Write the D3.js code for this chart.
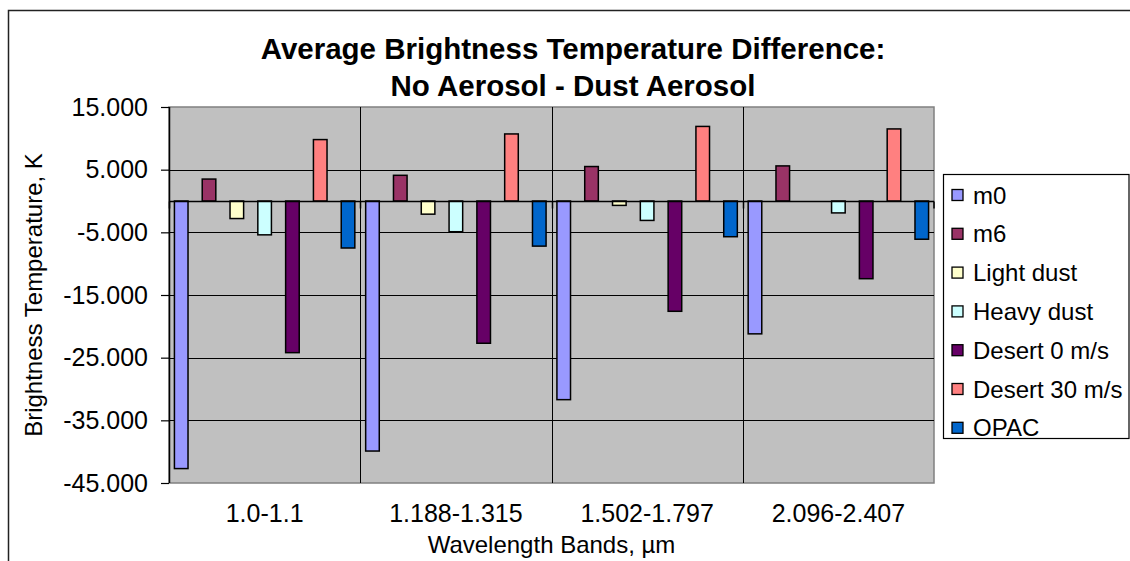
<!DOCTYPE html>
<html>
<head>
<meta charset="utf-8">
<script src="https://cdn.jsdelivr.net/npm/d3@7"></script>
<style>
  body { margin: 0; background: #fff; }
  svg { display: block; font-family: 'Liberation Sans', Arial, sans-serif; }
</style>
</head>
<body>
<svg id="chart" width="1130" height="561"></svg>
<script>
// data
const categories = ['1.0-1.1', '1.188-1.315', '1.502-1.797', '2.096-2.407']
const seriesNames = ['m0', 'm6', 'Light dust', 'Heavy dust', 'Desert 0 m/s', 'Desert 30 m/s', 'OPAC']
const m0 = [-42.7, -39.9, -31.7, -21.2]
const m6 = [3.5, 4.1, 5.5, 5.6]
const lightDust = [-2.8, -2.1, -0.7, 0]
const heavyDust = [-5.4, -4.9, -3.1, -1.9]
const desert0 = [-24.2, -22.7, -17.6, -12.4]
const desert30 = [9.8, 10.7, 11.9, 11.5]
const opac = [-7.5, -7.2, -5.7, -6.1]
const yTicks = [15, 5, -5, -15, -25, -35, -45]

const seriesValues = [m0, m6, lightDust, heavyDust, desert0, desert30, opac]
const colors = ['#9999FF', '#993366', '#FFFFCC', '#CCFFFF', '#660066', '#FF8080', '#0066CC']

const plot = { left: 169, right: 934, top: 107, bottom: 483 }

const svg = d3.select('#chart')

// chart frame (cropped on the right and bottom)
svg.append('path')
  .attr('d', 'M8.5,561 L8.5,10.5 L1130,10.5')
  .attr('fill', 'none')
  .attr('stroke', '#222')
  .attr('stroke-width', 1.5)

const x0 = d3.scaleBand().domain(categories).range([plot.left, plot.right]).padding(0)
const x1 = d3.scaleBand().domain(seriesNames).range([0, x0.bandwidth()])
  .paddingInner(0.511).paddingOuter(0.195)
const y = d3.scaleLinear().domain([-45, 15]).range([plot.bottom, plot.top])

// plot area
svg.append('rect')
  .attr('x', plot.left)
  .attr('y', plot.top)
  .attr('width', plot.right - plot.left)
  .attr('height', plot.bottom - plot.top)
  .attr('fill', '#C0C0C0')
  .attr('stroke', '#808080')
  .attr('stroke-width', 1.5)

// horizontal gridlines
svg.append('g')
  .selectAll('line')
  .data(yTicks.slice(1, -1))
  .enter()
  .append('line')
  .attr('x1', plot.left)
  .attr('x2', plot.right)
  .attr('y1', d => Math.round(y(d)) + 0.5)
  .attr('y2', d => Math.round(y(d)) + 0.5)
  .attr('stroke', '#000')
  .attr('stroke-width', 1)

// vertical gridlines between categories
svg.append('g')
  .selectAll('line')
  .data(categories.slice(1))
  .enter()
  .append('line')
  .attr('x1', d => Math.round(x0(d)) + 0.5)
  .attr('x2', d => Math.round(x0(d)) + 0.5)
  .attr('y1', plot.top)
  .attr('y2', plot.bottom)
  .attr('stroke', '#000')
  .attr('stroke-width', 1)

// bars
const groups = svg.append('g')
  .selectAll('g')
  .data(seriesNames)
  .enter()
  .append('g')
  .attr('fill', (d, i) => colors[i])

groups.selectAll('rect')
  .data((d, i) => seriesValues[i].map((v, j) => ({ name: d, cat: categories[j], value: v })))
  .enter()
  .append('rect')
  .attr('x', d => x0(d.cat) + x1(d.name))
  .attr('width', x1.bandwidth())
  .attr('y', d => y(Math.max(0, d.value)))
  .attr('height', d => Math.abs(y(d.value) - y(0)))
  .attr('stroke', '#000')
  .attr('stroke-width', 1.5)

// category axis at zero
const zeroY = Math.round(y(0)) + 0.5
svg.append('line')
  .attr('x1', plot.left)
  .attr('x2', plot.right)
  .attr('y1', zeroY)
  .attr('y2', zeroY)
  .attr('stroke', '#000')
  .attr('stroke-width', 1.5)

svg.append('g')
  .selectAll('line')
  .data(categories.concat(['end']))
  .enter()
  .append('line')
  .attr('x1', d => d === 'end' ? plot.right : Math.round(x0(d)) + 0.5)
  .attr('x2', d => d === 'end' ? plot.right : Math.round(x0(d)) + 0.5)
  .attr('y1', zeroY)
  .attr('y2', zeroY + 7)
  .attr('stroke', '#000')
  .attr('stroke-width', 1.5)

// value axis
const yAxis = d3.axisLeft(y)
  .tickValues(yTicks)
  .tickFormat(d => d.toFixed(3))
  .tickSize(8)
  .tickPadding(13)

const yAxisG = svg.append('g')
  .attr('transform', `translate(${plot.left}, 0)`)
  .call(yAxis)
yAxisG.select('.domain').remove()
yAxisG.selectAll('.tick line').attr('stroke', '#000').attr('stroke-width', 1.2)
yAxisG.selectAll('.tick text')
  .attr('font-size', 25)
  .attr('font-family', "'Liberation Sans', Arial, sans-serif")
  .attr('fill', '#000')

svg.append('line')
  .attr('x1', plot.left + 0.5)
  .attr('x2', plot.left + 0.5)
  .attr('y1', plot.top)
  .attr('y2', plot.bottom)
  .attr('stroke', '#000')
  .attr('stroke-width', 1.5)

// category labels
svg.append('g')
  .selectAll('text')
  .data(categories)
  .enter()
  .append('text')
  .attr('x', d => x0(d) + x0.bandwidth() / 2)
  .attr('y', 522)
  .attr('text-anchor', 'middle')
  .attr('font-size', 25)
  .text(d => d)

// axis titles
svg.append('text')
  .attr('x', (plot.left + plot.right) / 2)
  .attr('y', 553)
  .attr('text-anchor', 'middle')
  .attr('font-size', 24)
  .text('Wavelength Bands, µm')

svg.append('text')
  .attr('transform', `translate(42, ${(plot.top + plot.bottom) / 2}) rotate(-90)`)
  .attr('text-anchor', 'middle')
  .attr('font-size', 24)
  .text('Brightness Temperature, K')

// title
const title = svg.append('text')
  .attr('text-anchor', 'middle')
  .attr('font-size', 29.5)
  .attr('font-weight', 'bold')
title.append('tspan').attr('x', 573).attr('y', 59).text('Average Brightness Temperature Difference:')
title.append('tspan').attr('x', 573).attr('y', 96).text('No Aerosol - Dust Aerosol')

// legend
const legend = svg.append('g')
legend.append('rect')
  .attr('x', 943.5)
  .attr('y', 174.5)
  .attr('width', 185.5)
  .attr('height', 264)
  .attr('fill', '#fff')
  .attr('stroke', '#000')
  .attr('stroke-width', 1.2)

const items = legend.selectAll('.item')
  .data(seriesNames)
  .enter()
  .append('g')
  .attr('class', 'item')
  .attr('transform', (d, i) => `translate(0, ${195 + i * 38.8})`)

items.append('rect')
  .attr('x', 952)
  .attr('y', -5.5)
  .attr('width', 11)
  .attr('height', 11)
  .attr('fill', (d, i) => colors[i])
  .attr('stroke', '#000')
  .attr('stroke-width', 1.3)

items.append('text')
  .attr('x', 973)
  .attr('y', 8.5)
  .attr('font-size', 24)
  .text(d => d)
</script>
</body>
</html>
